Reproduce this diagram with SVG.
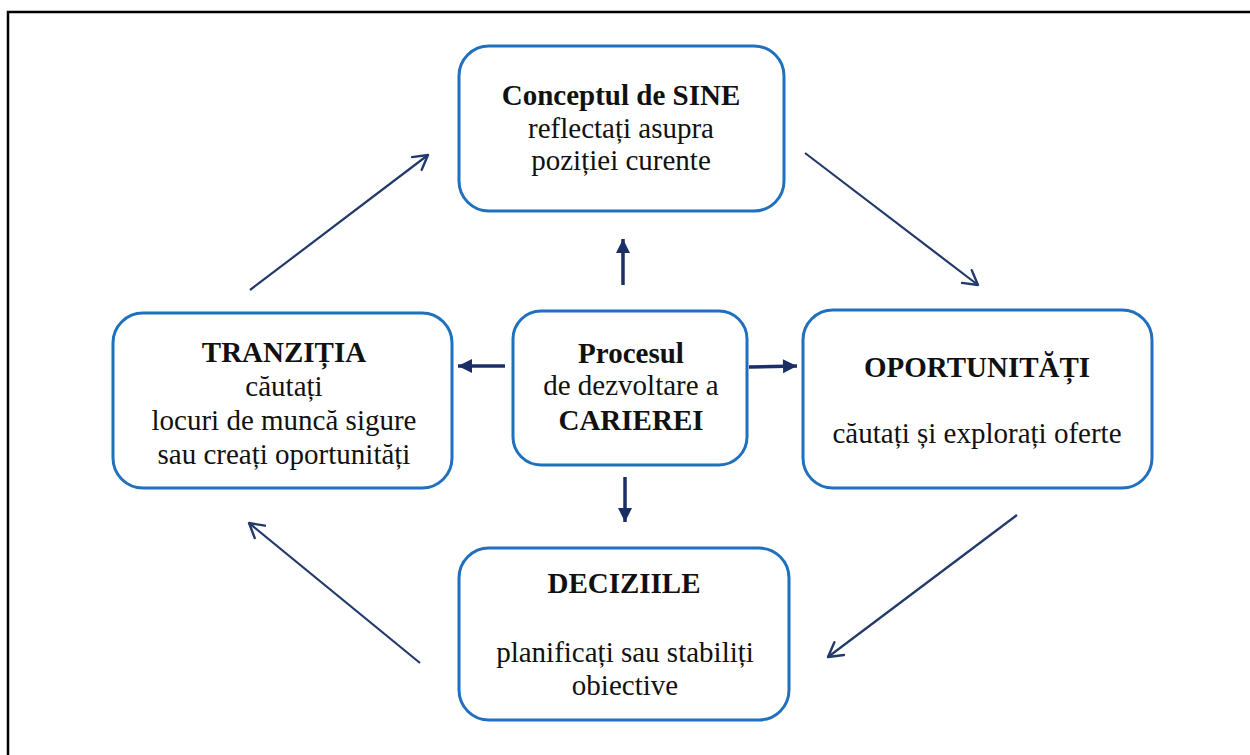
<svg xmlns="http://www.w3.org/2000/svg" width="1250" height="755" viewBox="0 0 1250 755">
  <style>
    .box { fill: #ffffff; stroke: #1f71bf; stroke-width: 3; }
    .t { font-family: 'Liberation Serif', 'DejaVu Serif', serif; font-size: 29px; fill: #111111; text-anchor: middle; }
    .b { font-weight: bold; }
    .thin { stroke: #22396b; stroke-width: 2.2; fill: none; }
    .thick { stroke: #1b2f66; stroke-width: 3.5; fill: none; }
  </style>
  <defs>
    <marker id="open" markerUnits="userSpaceOnUse" markerWidth="24" markerHeight="24" viewBox="-20 -12 24 24" refX="0" refY="0" orient="auto">
      <path d="M -14 -8 L 0 0 L -14 8" fill="none" stroke="#22396b" stroke-width="2.4" stroke-linecap="round" stroke-linejoin="round"/>
    </marker>
    <marker id="solid" markerUnits="userSpaceOnUse" markerWidth="20" markerHeight="20" viewBox="-16 -10 20 20" refX="0" refY="0" orient="auto">
      <path d="M -14 -7 L 0 0 L -14 7 Z" fill="#1b2f66"/>
    </marker>
  </defs>

  <!-- outer frame -->
  <rect x="8" y="12" width="1260" height="760" fill="#ffffff" stroke="#000000" stroke-width="2.5"/>

  <g id="connectors">
    <!-- cycle arrows -->
    <line class="thin" x1="250" y1="290" x2="428" y2="155" marker-end="url(#open)"/>
    <line class="thin" x1="805" y1="153" x2="978" y2="285" marker-end="url(#open)"/>
    <line class="thin" x1="1017" y1="515" x2="828" y2="657" marker-end="url(#open)"/>
    <line class="thin" x1="420" y1="663" x2="249" y2="523" marker-end="url(#open)"/>
    <!-- arrows out of the central process -->
    <line class="thick" x1="623" y1="285" x2="623" y2="239" marker-end="url(#solid)"/>
    <line class="thick" x1="625" y1="477" x2="625" y2="522" marker-end="url(#solid)"/>
    <line class="thick" x1="505" y1="366" x2="458" y2="366" marker-end="url(#solid)"/>
    <line class="thick" x1="749" y1="367" x2="797" y2="366" marker-end="url(#solid)"/>
  </g>

  <g id="node-sine" font-family="Liberation Serif">
    <rect class="box" x="459" y="46" width="325" height="165" rx="30"/>
    <text class="t b" x="621" y="105">Conceptul de SINE</text>
    <text class="t" x="621" y="138">reflectați asupra</text>
    <text class="t" x="621" y="170">poziției curente</text>
  </g>

  <g id="node-tranzitia">
    <rect class="box" x="113" y="313" width="339" height="175" rx="30"/>
    <text class="t b" x="284" y="362">TRANZIȚIA</text>
    <text class="t" x="284" y="396">căutați</text>
    <text class="t" x="284" y="430">locuri de muncă sigure</text>
    <text class="t" x="284" y="464">sau creați oportunități</text>
  </g>

  <g id="node-proces">
    <rect class="box" x="513" y="311" width="234" height="154" rx="28"/>
    <text class="t b" x="631" y="363">Procesul</text>
    <text class="t" x="631" y="395">de dezvoltare a</text>
    <text class="t b" x="631" y="430">CARIEREI</text>
  </g>

  <g id="node-oportunitati">
    <rect class="box" x="803" y="310" width="349" height="178" rx="30"/>
    <text class="t b" x="977" y="377">OPORTUNITĂȚI</text>
    <text class="t" x="977" y="443">căutați și explorați oferte</text>
  </g>

  <g id="node-deciziile">
    <rect class="box" x="459" y="548" width="330" height="172" rx="30"/>
    <text class="t b" x="624" y="593">DECIZIILE</text>
    <text class="t" x="625" y="662">planificați sau stabiliți</text>
    <text class="t" x="625" y="695">obiective</text>
  </g>
</svg>
